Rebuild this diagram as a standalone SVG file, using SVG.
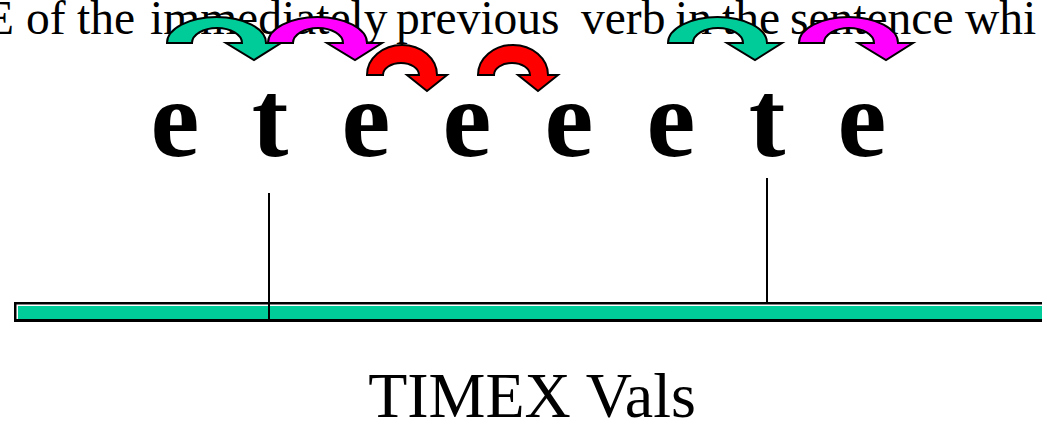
<svg xmlns="http://www.w3.org/2000/svg" xmlns:xlink="http://www.w3.org/1999/xlink" width="1042" height="422" viewBox="0 0 1042 422">
<style>
.top{font-family:"Liberation Serif","Times New Roman",serif;font-size:47.5px;fill:#000}
.ltr{font-family:"Liberation Serif","Times New Roman",serif;font-size:110px;font-weight:bold;fill:#000;text-anchor:middle}
.lbl{font-family:"Liberation Serif","Times New Roman",serif;font-size:64px;fill:#000;text-anchor:middle}
.arr{stroke:#000;stroke-width:2;stroke-linejoin:miter}
.g{fill:#00CC99}.m{fill:#FF00FF}.r{fill:#FF0000}
.tick{stroke:#000;stroke-width:2}
</style>
<defs>
<path id="big" d="M0,0 A49.5,26 0 0 1 99,0 L114,0 L87,17 L59,0 L75,0 A25,15 0 0 0 25,0 Z"/>
<path id="small" d="M0,0 A35,30 0 0 1 70,0 L80,0 L60,16 L40,0 L52,0 A18,12 0 0 0 16,0 Z"/>
</defs>
<rect width="1042" height="422" fill="#fff"/>
<g id="sentence">
<text class="top" y="34"><tspan x="-15">E</tspan><tspan x="26">of</tspan><tspan x="77">the</tspan><tspan x="150">immediately</tspan><tspan x="396">previous</tspan><tspan x="581">verb</tspan><tspan x="675">in</tspan><tspan x="722">the</tspan><tspan x="790">sentence</tspan><tspan x="965">whi</tspan></text>
</g>
<g id="connectors">
<use xlink:href="#big" href="#big" class="arr g" x="167" y="43"/>
<use xlink:href="#big" href="#big" class="arr m" x="268" y="43"/>
<use xlink:href="#small" href="#small" class="arr r" x="367" y="75"/>
<use xlink:href="#small" href="#small" class="arr r" x="478" y="75"/>
<use xlink:href="#big" href="#big" class="arr g" x="668" y="43"/>
<use xlink:href="#big" href="#big" class="arr m" x="799" y="43"/>
</g>
<g id="e1"><text class="ltr" x="175" y="156">e</text></g>
<g id="t1"><text class="ltr" x="270" y="156">t</text></g>
<g id="e2"><text class="ltr" x="366" y="156">e</text></g>
<g id="e3"><text class="ltr" x="467" y="156">e</text></g>
<g id="e4"><text class="ltr" x="569" y="156">e</text></g>
<g id="e5"><text class="ltr" x="671" y="156">e</text></g>
<g id="t2"><text class="ltr" x="767" y="156">t</text></g>
<g id="e6"><text class="ltr" x="862" y="156">e</text></g>
<g id="timeline">
<rect x="14" y="302" width="1040" height="20" fill="#000"/>
<rect x="16.5" y="304.5" width="1040" height="14.5" fill="#fff"/>
<rect x="18" y="306" width="1040" height="13" fill="#00CC99"/>
<line class="tick" x1="269" y1="193" x2="269" y2="321"/>
<line class="tick" x1="767" y1="178" x2="767" y2="303"/>
</g>
<g id="label"><text class="lbl" x="532" y="417">TIMEX Vals</text></g>
</svg>
